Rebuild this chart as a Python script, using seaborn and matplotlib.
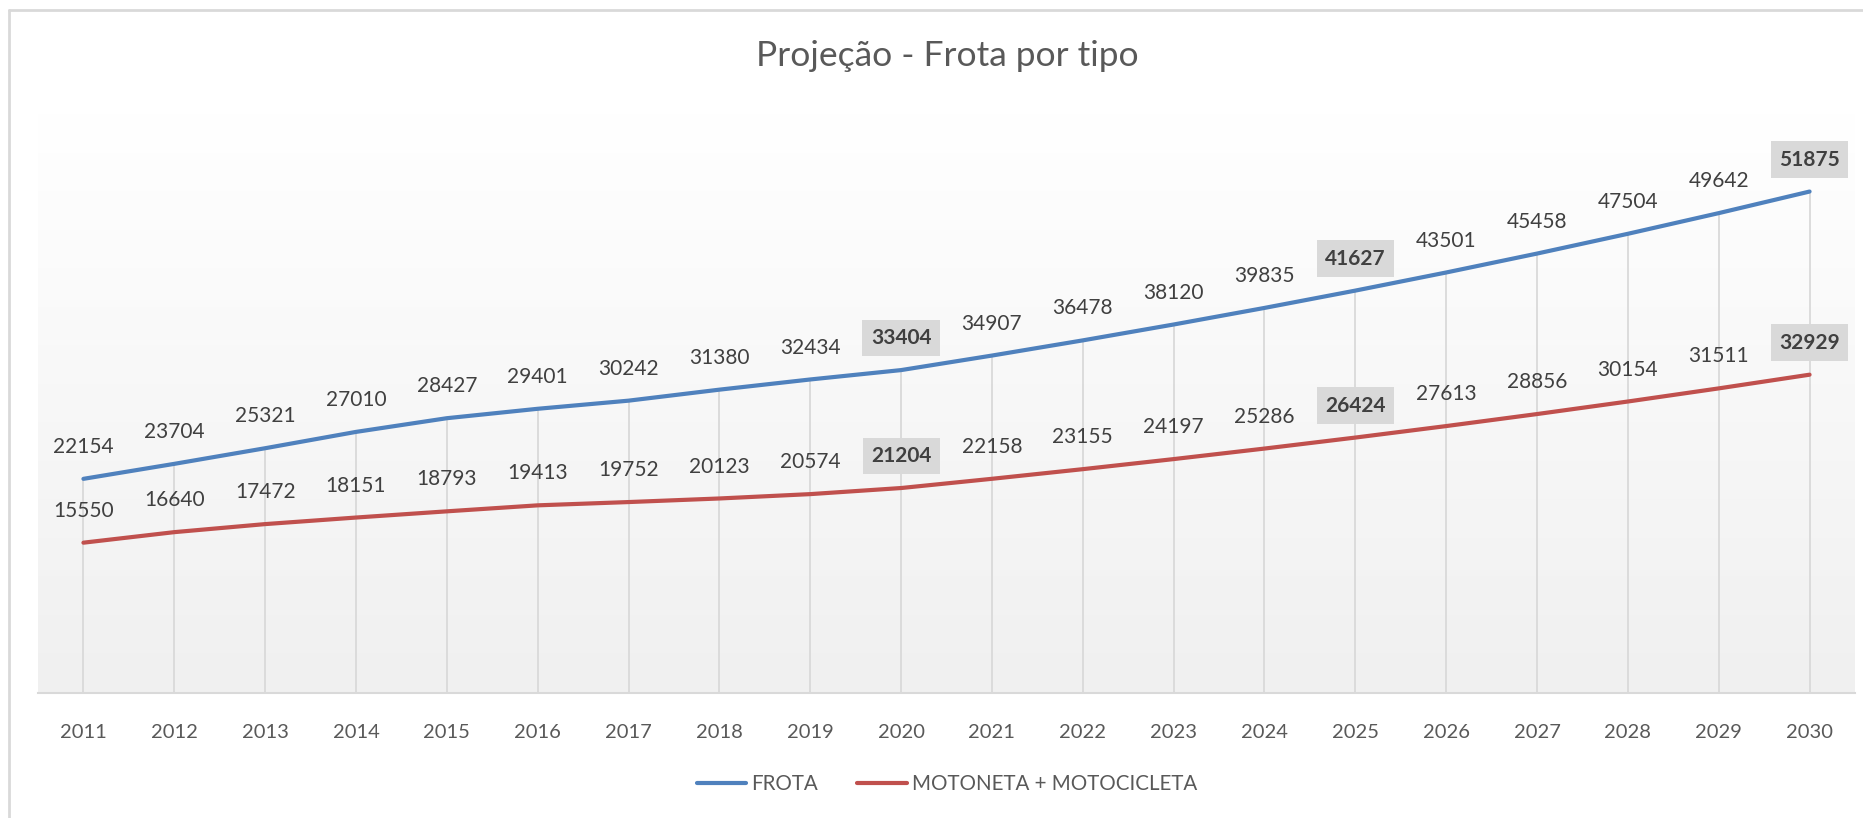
import numpy as np
import pandas as pd
import matplotlib
matplotlib.use('Agg')
import matplotlib.pyplot as plt
import seaborn as sns
from matplotlib.colors import LinearSegmentedColormap
from matplotlib.lines import Line2D

# Data
years = list(range(2011, 2031))
frota = [22154, 23704, 25321, 27010, 28427, 29401, 30242, 31380, 32434, 33404,
         34907, 36478, 38120, 39835, 41627, 43501, 45458, 47504, 49642, 51875]
moto = [15550, 16640, 17472, 18151, 18793, 19413, 19752, 20123, 20574, 21204,
        22158, 23155, 24197, 25286, 26424, 27613, 28856, 30154, 31511, 32929]
series_names = ['FROTA', 'MOTONETA + MOTOCICLETA']
highlight_years = [2020, 2025, 2030]

colors = ['#4F81BD', '#C0504D']

df = pd.DataFrame({
    'Ano': years * 2,
    'Valor': frota + moto,
    'Serie': [series_names[0]] * len(years) + [series_names[1]] * len(years),
})

sns.set_style('white')
plt.rcParams['font.family'] = ['Lato', 'DejaVu Sans']

fig = plt.figure(figsize=(18.63, 8.18), dpi=100)
ax = fig.add_axes([38 / 1863, 1 - 693 / 818, (1855 - 38) / 1863, (693 - 113) / 818])

# gradient background of the plot area (light gray at bottom, white at top)
grad = np.linspace(0, 1, 256).reshape(-1, 1)
cmap = LinearSegmentedColormap.from_list('bg', ['#F0F0F0', '#FFFFFF'])
ax.imshow(grad, aspect='auto', cmap=cmap, extent=[2010.5, 2030.5, 0, 60000],
          origin='lower', zorder=0)

# drop lines from the top series to the axis
ax.vlines(years, 0, frota, color='#D9D9D9', lw=1.3, zorder=1)

sns.lineplot(data=df, x='Ano', y='Valor', hue='Serie', palette=colors,
             linewidth=3, ax=ax, legend=False, zorder=3)

ax.set_xlim(2010.5, 2030.5)
ax.set_ylim(0, 60000)
ax.set_xticks(years)
ax.set_xticklabels([str(y) for y in years], fontsize=14.5, color='#595959')
ax.tick_params(axis='x', length=0, pad=22)
ax.set_yticks([])
ax.set_xlabel('')
ax.set_ylabel('')
for s in ['top', 'right', 'left']:
    ax.spines[s].set_visible(False)
ax.spines['bottom'].set_color('#D9D9D9')
ax.spines['bottom'].set_linewidth(1.5)

# data labels
for vals in [frota, moto]:
    for yr, v in zip(years, vals):
        if yr in highlight_years:
            ax.annotate(str(v), (yr, v), xytext=(0, 23), textcoords='offset points',
                        ha='center', va='center', fontsize=15, fontweight='bold',
                        color='#404040', zorder=5,
                        bbox=dict(boxstyle='square,pad=0.4', fc='#D9D9D9', ec='none'))
        else:
            ax.annotate(str(v), (yr, v), xytext=(0, 23), textcoords='offset points',
                        ha='center', va='center', fontsize=15, color='#404040',
                        zorder=5)

fig.text(947 / 1863, 1 - 56 / 818, 'Projeção - Frota por tipo', ha='center', va='center',
         fontsize=25.5, color='#595959')

handles = [Line2D([0], [0], color=c, lw=3) for c in colors]
fig.legend(handles, series_names, loc='center', bbox_to_anchor=(947 / 1863, 1 - 784 / 818),
           ncol=2, frameon=False, fontsize=14.8, labelcolor='#595959',
           handlelength=2.4, handletextpad=0.25, columnspacing=1.9)

# chart frame (left and top edges visible in the reference)
fig.add_artist(Line2D([9 / 1863, 9 / 1863], [0, 1 - 10 / 818], color='#D9D9D9', lw=2,
                      transform=fig.transFigure))
fig.add_artist(Line2D([9 / 1863, 1], [1 - 10 / 818, 1 - 10 / 818], color='#D9D9D9', lw=2,
                      transform=fig.transFigure))

fig.savefig('out.png', dpi=100)
